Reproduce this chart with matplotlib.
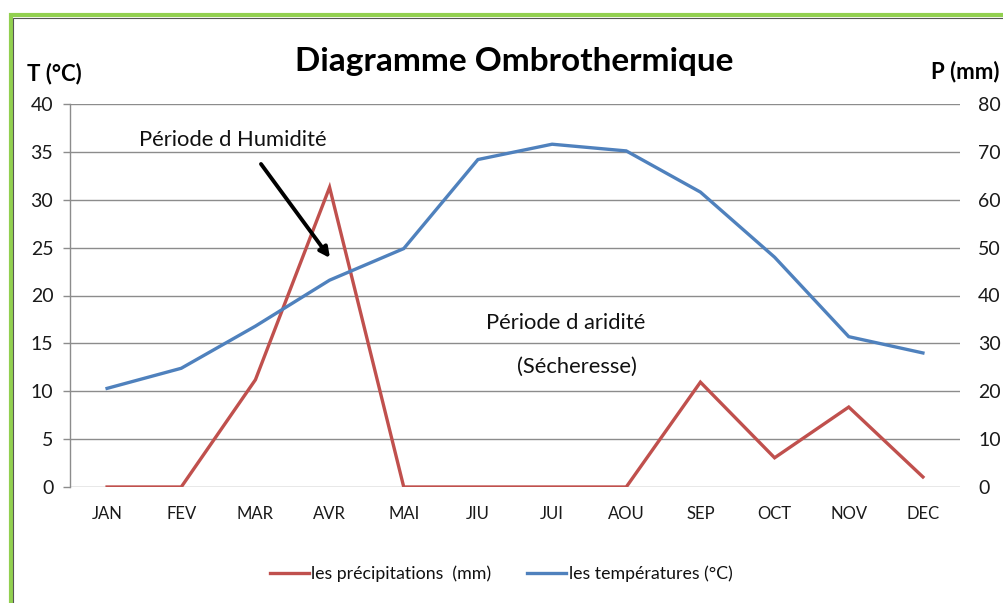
import matplotlib
matplotlib.use("Agg")
import matplotlib.pyplot as plt
from matplotlib.patches import Rectangle

plt.rcParams['font.family'] = ['Lato', 'DejaVu Sans']

months = ["JAN", "FEV", "MAR", "AVR", "MAI", "JIU", "JUI", "AOU", "SEP", "OCT", "NOV", "DEC"]
temperatures = [10.3, 12.4, 16.8, 21.6, 24.9, 34.2, 35.8, 35.1, 30.8, 24.0, 15.7, 14.0]
precipitations = [0, 0, 22.4, 62.6, 0, 0, 0, 0, 21.9, 6.1, 16.7, 2.1]
temp_ticks = [0, 5, 10, 15, 20, 25, 30, 35, 40]
prec_ticks = [0, 10, 20, 30, 40, 50, 60, 70, 80]

W, H = 1004, 603
fig = plt.figure(figsize=(W / 100, H / 100), dpi=100)

def fx(px):
    return px / W

def fy(py):
    return 1 - py / H

ax = fig.add_axes([fx(70), fy(487), fx(960) - fx(70), fy(104) - fy(487)])
ax2 = ax.twinx()
ax.set_zorder(ax2.get_zorder() + 1)
ax.patch.set_visible(False)

x = list(range(len(months)))
lp, = ax2.plot(x, precipitations, color="#C0504D", lw=2.4, solid_joinstyle="miter",
               label="les précipitations  (mm)")
lt, = ax.plot(x, temperatures, color="#4F81BD", lw=2.4, solid_joinstyle="miter",
              label="les températures (°C)")

ax.set_xlim(-0.5, len(months) - 0.5)
ax.set_ylim(0, 40)
ax2.set_ylim(0, 80)
ax.set_yticks(temp_ticks)
ax2.set_yticks(prec_ticks)
ax.set_xticks(x)
ax.set_xticklabels(months)

ax2.grid(axis="y", color="#8c8c8c", lw=1.0)
ax2.set_axisbelow(True)

for a in (ax, ax2):
    for s in a.spines.values():
        s.set_visible(False)
ax.spines["left"].set_visible(True)
ax.spines["left"].set_color("#8c8c8c")
ax.spines["left"].set_linewidth(1.0)

ax.tick_params(axis="y", length=5, width=1, color="#8c8c8c", pad=7, labelsize=14, labelcolor="#1a1a1a")
ax.tick_params(axis="x", length=0, pad=14, labelsize=12, labelcolor="#1a1a1a")
ax2.tick_params(axis="y", length=0, pad=13, labelsize=14, labelcolor="#1a1a1a")

fig.text(fx(514), fy(62), "Diagramme Ombrothermique", ha="center", va="center",
         fontsize=24, fontweight="bold", color="#000000")
fig.text(fx(54), fy(74), "T (°C)", ha="center", va="center", fontsize=16,
         fontweight="bold", color="#000000")
fig.text(fx(965), fy(72), "P (mm)", ha="center", va="center", fontsize=16,
         fontweight="bold", color="#000000")

fig.text(fx(233), fy(140), "Période d Humidité", ha="center", va="center",
         fontsize=15.8, color="#111111")
fig.text(fx(566), fy(323), "Période d aridité", ha="center", va="center",
         fontsize=15.8, color="#111111")
fig.text(fx(577), fy(367), "(Sécheresse)", ha="center", va="center",
         fontsize=15.8, color="#111111")

fig.add_artist(plt.Annotation("", xy=(fx(330), fy(258)), xytext=(fx(261), fy(164)),
                              xycoords="figure fraction", textcoords="figure fraction",
                              arrowprops=dict(arrowstyle="-|>,head_length=0.6,head_width=0.3",
                                              color="black", lw=2.8, shrinkA=0, shrinkB=0)))

fig.legend(handles=[lp, lt], loc="center", bbox_to_anchor=(fx(501), fy(574)), ncol=2,
           frameon=False, fontsize=12.8, handlelength=2.2, handletextpad=0.15,
           columnspacing=2.0, labelcolor="#111111")

# chart frame
fig.add_artist(Rectangle((fx(11), fy(H + 20)), fx(W + 20) - fx(11), fy(15) - fy(H + 20),
                         transform=fig.transFigure, fill=False, edgecolor="#92D050", lw=3.0))
fig.add_artist(Rectangle((fx(13.5), fy(H + 20)), fx(W + 20) - fx(13.5), fy(17.5) - fy(H + 20),
                         transform=fig.transFigure, fill=False, edgecolor="#555555", lw=0.8))

fig.savefig("out.png", dpi=100)
